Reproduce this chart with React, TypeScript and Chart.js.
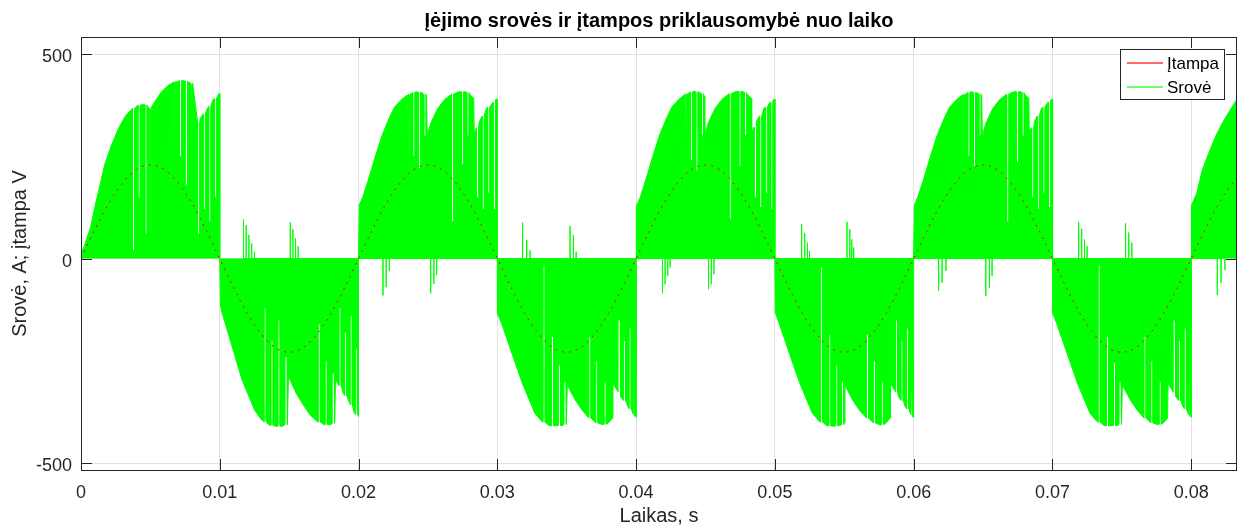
import React, { useEffect, useRef } from "react";
import { Chart, registerables } from "chart.js";

Chart.register(...registerables);

// ---------- texts ----------
const TITLE = "Įėjimo srovės ir įtampos priklausomybė nuo laiko";
const X_LABEL = "Laikas, s";
const Y_LABEL = "Srovė, A; įtampa V";
const VOLTAGE_LABEL = "Įtampa";
const CURRENT_LABEL = "Srovė";

// ---------- axes ----------
const X_MIN = 0;
const X_MAX = 0.0833;
const Y_MIN = -517;
const Y_MAX = 542;
const X_TICKS = [0, 0.01, 0.02, 0.03, 0.04, 0.05, 0.06, 0.07, 0.08];
const Y_TICKS = [-500, 0, 500];

// ---------- voltage (sampled every 1 ms) ----------
const VOLTAGE_STEP = 0.001;
const voltageValues = [
  0, 71, 135, 185, 218, 229, 218, 185, 135, 71,
  0, -71, -135, -185, -218, -229, -218, -185, -135, -71,
  0, 71, 135, 185, 218, 229, 218, 185, 135, 71,
  0, -71, -135, -185, -218, -229, -218, -185, -135, -71,
  0, 71, 135, 185, 218, 229, 218, 185, 135, 71,
  0, -71, -135, -185, -218, -229, -218, -185, -135, -71,
  0, 71, 135, 185, 218, 229, 218, 185, 135, 71,
  0, -71, -135, -185, -218, -229, -218, -185, -135, -71,
  0, 71, 135, 185, 208,
];

// ---------- current envelope, [time s, current A] ----------
const currentPos1 = [
  [0, 0], [0.00005, 15], [0.0003, 37], [0.0007, 78], [0.001, 127], [0.0014, 184],
  [0.0017, 229], [0.0022, 278], [0.0027, 318], [0.0032, 349], [0.0037, 367],
  [0.0041, 375], [0.0045, 377], [0.0048, 371], [0.005, 365], [0.0054, 388],
  [0.0058, 408], [0.0063, 424], [0.0068, 433], [0.0073, 436], [0.0077, 433],
  [0.008, 427], [0.00803, 306], [0.0086, 343], [0.0091, 367], [0.0095, 388],
  [0.0099, 402], [0.01, 404], [0.01, 0],
];
const currentNeg1 = [
  [0.01, 0], [0.01005, -110], [0.0101, -125], [0.0106, -182], [0.0111, -239],
  [0.0116, -296], [0.0121, -337], [0.0125, -370], [0.013, -394], [0.0135, -406],
  [0.014, -410], [0.0145, -410], [0.0149, -402], [0.01495, -288], [0.0155, -329],
  [0.016, -357], [0.0165, -382], [0.017, -398], [0.0175, -406], [0.018, -406],
  [0.0183, -398], [0.01834, -296], [0.0189, -329], [0.0194, -357], [0.0197, -378],
  [0.02, -386], [0.02, 0],
];
const currentPos2 = [
  [0.02, 0], [0.02005, 131], [0.0203, 150], [0.0207, 192], [0.0212, 249], [0.0217, 302],
  [0.0222, 343], [0.0226, 371], [0.0231, 389], [0.0236, 402], [0.0241, 408],
  [0.0246, 405], [0.0249, 397], [0.02495, 300], [0.0252, 331], [0.0257, 367],
  [0.0262, 389], [0.0267, 402], [0.0272, 408], [0.0277, 408], [0.028, 402],
  [0.0283, 392], [0.02833, 306], [0.0287, 335], [0.0292, 367], [0.0296, 379],
  [0.0299, 389], [0.03, 390], [0.03, 0],
];
const currentNeg2 = [
  [0.03, 0], [0.03003, -134], [0.0303, -158], [0.0308, -207], [0.0313, -256],
  [0.0318, -305], [0.0323, -345], [0.0327, -378], [0.0332, -398], [0.0337, -408],
  [0.0342, -409], [0.0347, -408], [0.035, -402], [0.03505, -295], [0.0351, -313],
  [0.0356, -345], [0.0361, -370], [0.0366, -390], [0.0371, -402], [0.0376, -406],
  [0.038, -402], [0.0383, -390], [0.03833, -305], [0.0389, -337], [0.0394, -362],
  [0.0399, -386], [0.04, -388], [0.04, 0],
];
const currentPos3 = [
  [0.04, 0], [0.04005, 128], [0.0403, 150], [0.0407, 193], [0.0412, 250], [0.0417, 303],
  [0.0422, 344], [0.0426, 372], [0.0431, 390], [0.0436, 403], [0.0441, 409],
  [0.0446, 406], [0.0449, 398], [0.04495, 300], [0.0452, 332], [0.0457, 368],
  [0.0462, 390], [0.0467, 403], [0.0472, 409], [0.0477, 408], [0.048, 402],
  [0.0483, 392], [0.04833, 306], [0.0487, 336], [0.0492, 367], [0.0496, 380],
  [0.0499, 389], [0.05, 390], [0.05, 0],
];
const currentNeg3 = [
  [0.05, 0], [0.05003, -132], [0.0503, -158], [0.0508, -207], [0.0513, -257],
  [0.0518, -305], [0.0523, -346], [0.0527, -378], [0.0532, -398], [0.0537, -408],
  [0.0542, -410], [0.0547, -408], [0.055, -402], [0.05505, -295], [0.0551, -313],
  [0.0556, -346], [0.0561, -371], [0.0566, -390], [0.0571, -402], [0.0576, -407],
  [0.058, -402], [0.0583, -390], [0.05833, -305], [0.0589, -337], [0.0594, -363],
  [0.0599, -386], [0.06, -388], [0.06, 0],
];
const currentPos4 = [
  [0.06, 0], [0.06005, 130], [0.0603, 151], [0.0607, 192], [0.0612, 249], [0.0617, 302],
  [0.0622, 343], [0.0626, 371], [0.0631, 389], [0.0636, 402], [0.0641, 408],
  [0.0646, 405], [0.0649, 397], [0.06495, 300], [0.0652, 331], [0.0657, 367],
  [0.0662, 389], [0.0667, 402], [0.0672, 408], [0.0677, 408], [0.068, 402],
  [0.0683, 392], [0.06833, 306], [0.0687, 335], [0.0692, 367], [0.0696, 379],
  [0.0699, 389], [0.07, 390], [0.07, 0],
];
const currentNeg4 = [
  [0.07, 0], [0.07003, -133], [0.0703, -158], [0.0708, -207], [0.0713, -256],
  [0.0718, -305], [0.0723, -345], [0.0727, -378], [0.0732, -398], [0.0737, -408],
  [0.0742, -409], [0.0747, -408], [0.075, -402], [0.07505, -295], [0.0751, -313],
  [0.0756, -345], [0.0761, -370], [0.0766, -390], [0.0771, -402], [0.0776, -406],
  [0.078, -402], [0.0783, -390], [0.07833, -305], [0.0789, -337], [0.0794, -362],
  [0.0799, -386], [0.08, -388], [0.08, 0],
];
const currentPos5 = [
  [0.08, 0], [0.08005, 130], [0.0804, 160], [0.0808, 217], [0.0813, 261],
  [0.0818, 302], [0.0823, 335], [0.0828, 363], [0.0833, 390], [0.0834, 395],
];

// ---------- brief current drops inside the pulses, [time s, current before, current during drop] ----------
const currentDrops1 = [
  [0.0037, 367, 20], [0.0041, 375, 150], [0.0046, 376, 60], [0.0049, 369, 10],
  [0.0067, 432, 200], [0.0071, 435, 250], [0.0075, 434, 180], [0.0079, 429, 230],
  [0.0084, 333, 60], [0.0088, 353, 120], [0.0092, 372, 90], [0.0096, 391, 150],
  [0.0132, -399, -120], [0.0137, -408, -200], [0.0142, -410, -150], [0.0147, -406, -240],
  [0.0171, -400, -160], [0.0176, -406, -250], [0.0181, -403, -280],
  [0.0186, -311, -120], [0.019, -335, -180], [0.0194, -357, -140], [0.0198, -381, -220],
];
const currentDrops2 = [
  [0.0235, 400, 135], [0.0239, 406, 250], [0.0243, 407, 220], [0.0247, 402, 300],
  [0.0267, 402, 90], [0.0274, 408, 230], [0.0278, 406, 300],
  [0.0285, 320, 150], [0.0289, 348, 120], [0.0293, 370, 160], [0.0297, 382, 120],
  [0.0333, -400, -15], [0.0339, -409, -190], [0.0344, -408, -260], [0.0348, -406, -300],
  [0.0366, -390, -190], [0.0371, -402, -250], [0.0377, -405, -300],
  [0.0387, -326, -150], [0.0391, -347, -200], [0.0395, -367, -170], [0.0398, -381, -250],
];
const currentDrops3 = [
  [0.0435, 401, 140], [0.0439, 407, 240], [0.0443, 408, 215], [0.0447, 403, 300],
  [0.0467, 403, 95], [0.0474, 409, 225], [0.0478, 406, 300],
  [0.0485, 321, 150], [0.0489, 349, 125], [0.0493, 370, 160], [0.0497, 383, 120],
  [0.0533, -400, -20], [0.0539, -409, -185], [0.0544, -409, -260], [0.0548, -406, -300],
  [0.0566, -390, -185], [0.0571, -402, -250], [0.0577, -406, -300],
  [0.0587, -326, -150], [0.0591, -347, -200], [0.0595, -368, -170], [0.0598, -381, -250],
];
const currentDrops4 = [
  [0.0635, 400, 130], [0.0639, 406, 250], [0.0643, 407, 225], [0.0647, 402, 300],
  [0.0667, 402, 90], [0.0674, 408, 235], [0.0678, 406, 300],
  [0.0685, 320, 150], [0.0689, 348, 120], [0.0693, 370, 160], [0.0697, 382, 125],
  [0.0733, -400, -15], [0.0739, -409, -190], [0.0744, -408, -255], [0.0748, -406, -300],
  [0.0766, -390, -190], [0.0771, -402, -250], [0.0777, -405, -300],
  [0.0787, -326, -150], [0.0791, -347, -200], [0.0795, -367, -170], [0.0798, -381, -250],
];

// ---------- short opposite-polarity current spikes, [time s, peak A] ----------
const reverseSpikes1 = [
  [0.01171, 96], [0.0119, 82], [0.0121, 58], [0.0123, 37], [0.0125, 17],
  [0.01508, 89], [0.01527, 72], [0.01546, 50], [0.01565, 30],
];
const reverseSpikes2 = [
  [0.02176, -90], [0.02199, -70], [0.02222, -30],
  [0.0252, -85], [0.02543, -62], [0.02563, -40],
  [0.03182, 88], [0.03212, 46], [0.03236, 20],
  [0.03524, 80], [0.03548, 58], [0.03568, 17],
];
const reverseSpikes3 = [
  [0.0419, -85], [0.04209, -63], [0.04228, -42], [0.04245, -22],
  [0.04522, -75], [0.04542, -63], [0.04561, -38],
  [0.05193, 84], [0.05215, 62], [0.05235, 39], [0.05249, 19],
  [0.0552, 90], [0.0554, 72], [0.05554, 47], [0.05568, 27],
];
const reverseSpikes4 = [
  [0.0618, -79], [0.06205, -59], [0.06233, -30],
  [0.0652, -91], [0.06546, -71], [0.06565, -42],
  [0.07189, 90], [0.07211, 73], [0.07231, 47], [0.0725, 31],
  [0.07527, 86], [0.0755, 64], [0.07572, 39],
];
const reverseSpikes5 = [[0.08188, -89], [0.08215, -60], [0.08243, -28]];

// ---------- styles ----------
const FONT = '"Liberation Sans", Arial, Helvetica, sans-serif';
const AXIS_COLOR = "#262626";
const GRID_COLOR = "#e1e1e1";
const RED = "#ff0000";
const GREEN = "#00ff00";
const DROP_WIDTH = 0.00015; // drawn width of a drop (about 2 px)

type Pt = { x: number; y: number };

function buildCurrent(envelope: number[][], drops: number[][]): Pt[] {
  const pts: Pt[] = envelope.map(([x, y]) => ({ x, y }));
  drops.forEach(([t, top, low]) => {
    pts.push({ x: t, y: top }, { x: t, y: low }, { x: t + DROP_WIDTH, y: low }, { x: t + DROP_WIDTH, y: top });
  });
  return pts.sort((a, b) => a.x - b.x); // stable sort keeps same-time order
}

const framePlugin = {
  id: "matlabFrame",
  afterDraw(chart: any) {
    const { ctx, chartArea } = chart;
    const { left, top, right, bottom } = chartArea;
    const xs = chart.scales.x;
    const ys = chart.scales.y;
    ctx.save();
    ctx.strokeStyle = AXIS_COLOR;
    ctx.lineWidth = 1;
    ctx.strokeRect(Math.round(left) + 0.5, Math.round(top) + 0.5, Math.round(right - left) - 1, Math.round(bottom - top));
    const tl = 11;
    ctx.beginPath();
    X_TICKS.forEach((v) => {
      const px = Math.round(xs.getPixelForValue(v)) + 0.5;
      ctx.moveTo(px, bottom);
      ctx.lineTo(px, bottom - tl);
      ctx.moveTo(px, top);
      ctx.lineTo(px, top + tl);
    });
    Y_TICKS.forEach((v) => {
      const py = Math.round(ys.getPixelForValue(v)) + 0.5;
      ctx.moveTo(left, py);
      ctx.lineTo(left + tl, py);
      ctx.moveTo(right, py);
      ctx.lineTo(right - tl, py);
    });
    ctx.stroke();

    // title
    ctx.fillStyle = "#000000";
    ctx.font = `bold 20px ${FONT}`;
    ctx.textAlign = "center";
    ctx.textBaseline = "alphabetic";
    ctx.fillText(TITLE, (left + right) / 2, 27);

    // x label
    ctx.fillStyle = AXIS_COLOR;
    ctx.font = `20px ${FONT}`;
    ctx.fillText(X_LABEL, (left + right) / 2, 522);

    // y label
    ctx.save();
    ctx.translate(26, (top + bottom) / 2);
    ctx.rotate(-Math.PI / 2);
    ctx.textAlign = "center";
    ctx.textBaseline = "alphabetic";
    ctx.fillText(Y_LABEL, 0, 0);
    ctx.restore();

    // legend
    const lx = 1120.5, ly = 49.5, lw = 104, lh = 50;
    ctx.fillStyle = "#ffffff";
    ctx.fillRect(lx, ly, lw, lh);
    ctx.strokeStyle = AXIS_COLOR;
    ctx.lineWidth = 1;
    ctx.strokeRect(lx, ly, lw, lh);
    const entries = [
      { label: VOLTAGE_LABEL, color: "#ff6b6b", y: 63 },
      { label: CURRENT_LABEL, color: "#6bff6b", y: 87 },
    ];
    ctx.font = `17px ${FONT}`;
    ctx.textAlign = "left";
    ctx.textBaseline = "middle";
    entries.forEach((e) => {
      ctx.strokeStyle = e.color;
      ctx.lineWidth = 2;
      ctx.beginPath();
      ctx.moveTo(1127, e.y);
      ctx.lineTo(1163, e.y);
      ctx.stroke();
      ctx.fillStyle = "#000000";
      ctx.fillText(e.label, 1167, e.y + 1);
    });
    ctx.restore();
  },
};

export default function App() {
  const canvasRef = useRef<HTMLCanvasElement | null>(null);

  useEffect(() => {
    const canvas = canvasRef.current;
    if (!canvas) return;

    const voltagePoints = voltageValues.map((v, i) => ({ x: i * VOLTAGE_STEP, y: v }));
    const currentPoints = [
      ...buildCurrent([...currentPos1, ...currentNeg1], currentDrops1),
      ...buildCurrent([...currentPos2, ...currentNeg2], currentDrops2),
      ...buildCurrent([...currentPos3, ...currentNeg3], currentDrops3),
      ...buildCurrent([...currentPos4, ...currentNeg4], currentDrops4),
      ...buildCurrent(currentPos5, []),
    ];
    const spikes = [
      ...reverseSpikes1, ...reverseSpikes2, ...reverseSpikes3, ...reverseSpikes4, ...reverseSpikes5,
    ];
    const spikePoints: Pt[] = [];
    spikes.forEach(([t, v]) => {
      spikePoints.push({ x: t, y: 0 }, { x: t, y: v }, { x: t, y: 0 });
    });

    const chart = new Chart(canvas, {
      type: "line",
      data: {
        datasets: [
          {
            label: VOLTAGE_LABEL,
            data: voltagePoints,
            borderColor: RED,
            borderWidth: 1,
            borderDash: [2, 5],
            pointRadius: 0,
            cubicInterpolationMode: "monotone",
            fill: false,
            order: 0,
          },
          {
            label: CURRENT_LABEL,
            data: currentPoints,
            borderColor: GREEN,
            backgroundColor: GREEN,
            borderWidth: 1,
            pointRadius: 0,
            tension: 0,
            fill: "origin",
            order: 1,
          },
          {
            label: CURRENT_LABEL,
            data: spikePoints,
            borderColor: GREEN,
            borderWidth: 1,
            pointRadius: 0,
            tension: 0,
            fill: false,
            order: 2,
          },
        ],
      },
      options: {
        responsive: false,
        animation: false,
        devicePixelRatio: 1,
        layout: { padding: { left: 0, right: 5, top: 37, bottom: 0 } },
        plugins: {
          legend: { display: false },
          title: { display: false },
          tooltip: { enabled: false },
        },
        scales: {
          x: {
            type: "linear",
            min: X_MIN,
            max: X_MAX,
            afterBuildTicks: (s: any) => {
              s.ticks = X_TICKS.map((value) => ({ value }));
            },
            afterFit: (s: any) => {
              s.height = 59;
            },
            ticks: {
              autoSkip: false,
              maxRotation: 0,
              padding: 12,
              color: AXIS_COLOR,
              font: { family: FONT, size: 18 },
              callback: (v: any) => (Number(v) === 0 ? "0" : Number(v).toFixed(2)),
            },
            grid: { color: GRID_COLOR, drawTicks: false, lineWidth: 1 },
            border: { display: false },
          },
          y: {
            type: "linear",
            min: Y_MIN,
            max: Y_MAX,
            afterBuildTicks: (s: any) => {
              s.ticks = Y_TICKS.map((value) => ({ value }));
            },
            afterFit: (s: any) => {
              s.width = 81;
            },
            ticks: {
              padding: 9,
              labelOffset: 3,
              color: AXIS_COLOR,
              font: { family: FONT, size: 18 },
              callback: (v: any) => String(v),
            },
            grid: { color: GRID_COLOR, drawTicks: false, lineWidth: 1 },
            border: { display: false },
          },
        },
      },
      plugins: [framePlugin],
    } as any);

    return () => chart.destroy();
  }, []);

  return (
    <div style={{ position: "absolute", left: 0, top: 0, width: 1242, height: 529, background: "#ffffff" }}>
      <canvas ref={canvasRef} width={1242} height={529} style={{ display: "block" }} />
    </div>
  );
}
